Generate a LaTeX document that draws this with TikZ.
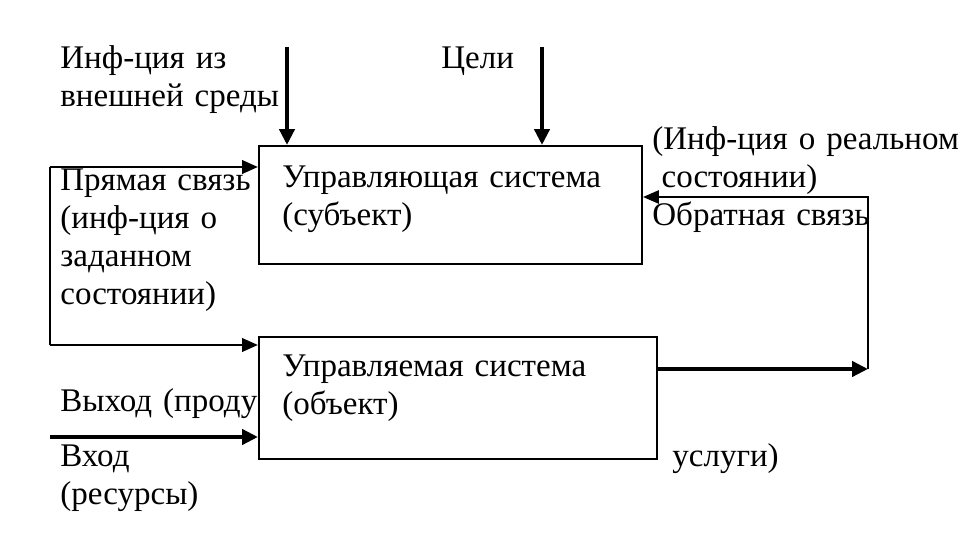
\documentclass[tikz,border=0pt]{standalone}
\usepackage{fontspec}
\setmainfont{Liberation Serif}
\usetikzlibrary{arrows.meta}
\tikzset{
    sysbox/.style={draw, line width=1.2pt, fill=white, inner sep=0pt, anchor=north west},
    lbl/.style={inner sep=0pt, anchor=base west, align=left, text width=#1},
    lbl/.default=6cm,
    heavy/.style={line width=2.6pt, -{Triangle[length=9pt, width=8.5pt]}},
    medium/.style={line width=1.6pt},
    light/.style={line width=1.1pt},
    tip/.style={-{Triangle[length=9pt, width=7.5pt]}}
}
\begin{document}
\begin{tikzpicture}[x=0.02cm, y=-0.02cm, font=\fontsize{18.8pt}{21.6pt}\selectfont]
    \useasboundingbox (0, 0) rectangle (958, 533);
    \node[lbl=4.8cm] (env) at (60, 69) {Инф-ция из\\внешней среды};
    \node[lbl=2cm] (goals) at (441, 69) {Цели};
    \node[lbl=4cm] (direct) at (60, 191) {Прямая связь\\(инф-ция о\\заданном\\состоянии)};
    \node[lbl=6.2cm] (feedback) at (652, 150) {(Инф-ция о реальном\\\hspace*{0.28em}состоянии)\\Обратная связь};
    \node[lbl=4cm] (outtxt) at (60, 412) {Выход (проду};
    \node[lbl=3cm] (outtxt2) at (672, 467) {услуги)};
    \node[lbl=4cm] (restxt) at (60, 467) {Вход\\(ресурсы)};
    \node[sysbox, minimum width=7.66cm, minimum height=2.36cm] (ctrl) at (258, 145) {};
    \node[sysbox, minimum width=7.96cm, minimum height=2.44cm] (obj) at (258, 336) {};
    \node[lbl=7cm] (ctrltxt) at (282, 188) {Управляющая система\\(субъект)};
    \node[lbl=7cm] (objtxt) at (282, 377) {Управляемая система\\(объект)};
    \coordinate (envin) at (287, 47);
    \coordinate (goalin) at (542, 47);
    \coordinate (dtop) at (50, 167);
    \coordinate (dlow) at (50, 345);
    \coordinate (resin) at (50, 437);
    \coordinate (outr) at (868, 369);
    \coordinate (fbtop) at (868, 197);
    \draw[heavy] (envin) -- (envin |- ctrl.north);
    \draw[heavy] (goalin) -- (goalin |- ctrl.north);
    \draw[medium, tip] (dtop) -- (dtop -| ctrl.west);
    \draw[light] (dtop) -- (dlow);
    \draw[medium, tip] (dlow) -- (dlow -| obj.west);
    \draw[heavy] (resin) -- (resin -| obj.west);
    \draw[heavy] (obj.east |- outr) -- (outr);
    \draw[light, tip] (outr) -- (fbtop) -- (fbtop -| ctrl.east);
\end{tikzpicture}
\end{document}
